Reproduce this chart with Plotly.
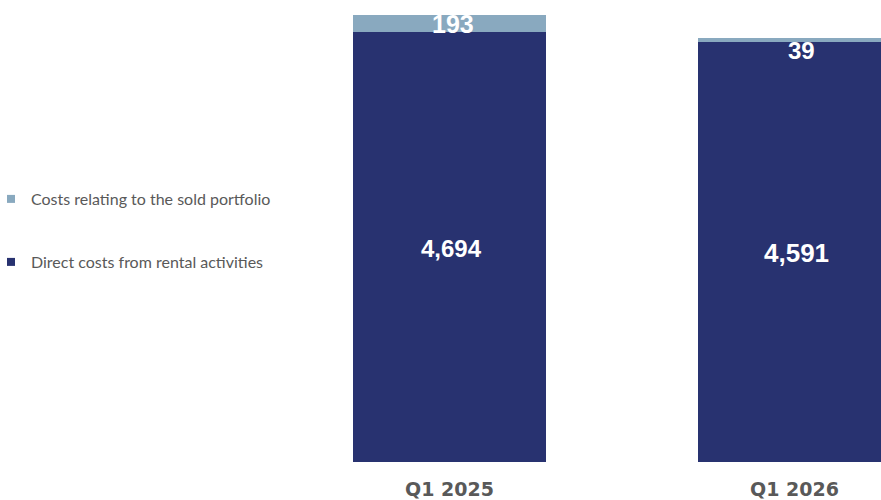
import plotly.graph_objects as go

# Quarterly cost breakdown (EUR thousands)
quarters = ["Q1 2025", "Q1 2026"]
direct_costs = [4694, 4591]
sold_portfolio_costs = [193, 39]

series_names = ["Direct costs from rental activities", "Costs relating to the sold portfolio"]
dark_blue = "#283270"
light_blue = "#89a9bf"
label_grey = "#595959"

fig = go.Figure()

fig.add_trace(go.Bar(
    x=quarters, y=direct_costs, name=series_names[0],
    marker=dict(color=dark_blue, line=dict(width=0)),
    width=0.5594, showlegend=False,
))
fig.add_trace(go.Bar(
    x=quarters, y=sold_portfolio_costs, name=series_names[1],
    marker=dict(color=light_blue, line=dict(width=0)),
    width=0.5594, showlegend=False,
))

# Small square legend keys, one legend box per series
fig.add_trace(go.Scatter(
    x=[None], y=[None], mode="markers", name=series_names[1],
    marker=dict(symbol="square", size=8, color=light_blue), legend="legend",
))
fig.add_trace(go.Scatter(
    x=[None], y=[None], mode="markers", name=series_names[0],
    marker=dict(symbol="square", size=8, color=dark_blue), legend="legend2",
))

# Value labels placed at the middle of each segment
label_font = dict(family="Liberation Sans, Arial, sans-serif", color="white")
annotations = []
direct_sizes = [24, 26]
direct_xshift = [2, 2]
for i, q in enumerate(quarters):
    annotations.append(dict(
        x=q, y=direct_costs[i] / 2, text=f"<b>{direct_costs[i]:,}</b>",
        showarrow=False, xshift=direct_xshift[i], yshift=-1,
        font=dict(size=direct_sizes[i], **label_font),
    ))
# Sold-portfolio labels: centred in the first segment, below the thin second one
annotations.append(dict(
    x=quarters[0], y=direct_costs[0] + sold_portfolio_costs[0] / 2,
    text=f"<b>{sold_portfolio_costs[0]:,}</b>", showarrow=False, xshift=3, yshift=-1,
    font=dict(size=25, **label_font),
))
annotations.append(dict(
    x=quarters[1], y=direct_costs[1] + sold_portfolio_costs[1] / 2,
    text=f"<b>{sold_portfolio_costs[1]:,}</b>", showarrow=False, xshift=7, yshift=-11,
    font=dict(size=24, **label_font),
))

legend_font = dict(family="Lato, sans-serif", size=16, color=label_grey)
legend_x = -9 / 881

fig.update_layout(
    width=881, height=500,
    margin=dict(l=0, r=0, t=0, b=38, autoexpand=False),
    paper_bgcolor="white", plot_bgcolor="white",
    barmode="stack",
    annotations=annotations,
    legend=dict(x=legend_x, xanchor="left", y=1 - 199 / 462, yanchor="middle",
                font=legend_font, bgcolor="rgba(0,0,0,0)", borderwidth=0),
    legend2=dict(x=legend_x, xanchor="left", y=1 - 262 / 462, yanchor="middle",
                 font=legend_font, bgcolor="rgba(0,0,0,0)", borderwidth=0),
    xaxis=dict(
        type="category", range=[-1.3029, 1.2507],
        showgrid=False, zeroline=False, showline=False, ticks="",
        tickfont=dict(family="DejaVu Sans, sans-serif", size=19, color=label_grey, weight="bold"),
        ticklabelstandoff=14,
    ),
    yaxis=dict(
        range=[0, 5047], visible=False, showgrid=False, zeroline=False,
    ),
)

fig.write_html("out.html")
